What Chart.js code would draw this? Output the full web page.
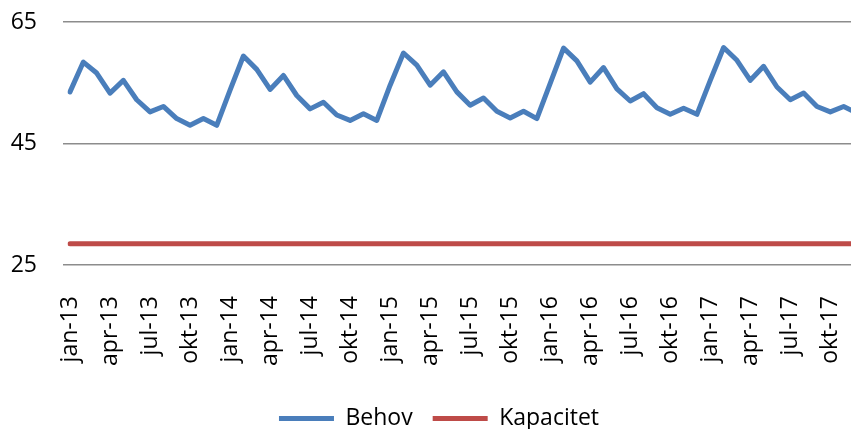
<!DOCTYPE html>
<html>
<head>
<meta charset="utf-8">
<script src="https://cdn.jsdelivr.net/npm/chart.js@4/dist/chart.umd.min.js"></script>
<style>
  html, body { margin: 0; padding: 0; background: #fff; }
  #clip { width: 851px; height: 429px; overflow: hidden; position: relative; }
  #box { width: 878px; height: 440px; position: absolute; left: 0; top: 0; }
</style>
</head>
<body>
<div id="clip"><div id="box"><canvas id="chart"></canvas></div></div>
<script>
// ---------- Data ----------
const labels = [
  "jan-13", "feb-13", "mar-13", "apr-13", "mai-13", "jun-13", "jul-13", "aug-13", "sep-13", "okt-13", "nov-13", "des-13",
  "jan-14", "feb-14", "mar-14", "apr-14", "mai-14", "jun-14", "jul-14", "aug-14", "sep-14", "okt-14", "nov-14", "des-14",
  "jan-15", "feb-15", "mar-15", "apr-15", "mai-15", "jun-15", "jul-15", "aug-15", "sep-15", "okt-15", "nov-15", "des-15",
  "jan-16", "feb-16", "mar-16", "apr-16", "mai-16", "jun-16", "jul-16", "aug-16", "sep-16", "okt-16", "nov-16", "des-16",
  "jan-17", "feb-17", "mar-17", "apr-17", "mai-17", "jun-17", "jul-17", "aug-17", "sep-17", "okt-17", "nov-17", "des-17",
];

const behov = [
  53.5, 58.4, 56.6, 53.3, 55.4, 52.2, 50.2, 51.1, 49.1, 48.0, 49.1, 48.0,
  53.8, 59.4, 57.2, 53.9, 56.2, 52.9, 50.7, 51.8, 49.7, 48.8, 49.9, 48.8,
  54.6, 59.9, 57.9, 54.6, 56.8, 53.5, 51.3, 52.5, 50.3, 49.2, 50.3, 49.1,
  54.9, 60.7, 58.6, 55.1, 57.5, 54.0, 52.0, 53.2, 50.9, 49.8, 50.8, 49.8,
  55.4, 60.8, 58.7, 55.4, 57.7, 54.3, 52.2, 53.3, 51.1, 50.2, 51.1, 50.0,
];

const kapacitet = [
  28.5, 28.5, 28.5, 28.5, 28.5, 28.5, 28.5, 28.5, 28.5, 28.5, 28.5, 28.5,
  28.5, 28.5, 28.5, 28.5, 28.5, 28.5, 28.5, 28.5, 28.5, 28.5, 28.5, 28.5,
  28.5, 28.5, 28.5, 28.5, 28.5, 28.5, 28.5, 28.5, 28.5, 28.5, 28.5, 28.5,
  28.5, 28.5, 28.5, 28.5, 28.5, 28.5, 28.5, 28.5, 28.5, 28.5, 28.5, 28.5,
  28.5, 28.5, 28.5, 28.5, 28.5, 28.5, 28.5, 28.5, 28.5, 28.5, 28.5, 28.5,
];

const yTicks = [25, 45, 65];

// ---------- Defaults ----------
Chart.defaults.font.family = `"Open Sans", "Noto Sans", sans-serif`;
Chart.defaults.font.size = 23;
Chart.defaults.color = "#000";

// drop the label overhang padding so the plot area sits where we put it
const noPad = (s) => {
  s.paddingLeft = 0;
  s.paddingRight = 0;
  s.paddingTop = 0;
  s.paddingBottom = 0;
};

const ctx = document.getElementById("chart").getContext("2d");
const chart = new Chart(ctx, {
  type: "line",
  data: {
    labels: labels,
    datasets: [
      {
        label: "Behov",
        data: behov,
        borderColor: "#4a7ebb",
        backgroundColor: "#4a7ebb",
        borderWidth: 5,
        borderCapStyle: "round",
        borderJoinStyle: "round",
        pointRadius: 0,
        tension: 0,
      },
      {
        label: "Kapacitet",
        data: kapacitet,
        borderColor: "#be4b48",
        backgroundColor: "#be4b48",
        borderWidth: 5,
        borderCapStyle: "round",
        borderJoinStyle: "round",
        pointRadius: 0,
        tension: 0,
      },
    ],
  },
  options: {
    responsive: true,
    maintainAspectRatio: false,
    animation: false,
    layout: { padding: { top: 22, left: 0, right: 0, bottom: 0 } },
    scales: {
      x: {
        grid: { display: false },
        border: { display: false },
        ticks: {
          autoSkip: false,
          maxRotation: 90,
          minRotation: 90,
          padding: 23,
          callback: (v, i) => (i % 3 === 0 ? labels[i] : ""),
        },
        afterFit: (s) => { s.height = 122; noPad(s); },
      },
      y: {
        min: 25,
        max: 65,
        afterBuildTicks: (s) => { s.ticks = yTicks.map((v) => ({ value: v })); },
        grid: { color: "#8c8c8c", lineWidth: 1.5, tickLength: 7 },
        border: { display: false },
        ticks: { padding: 26 },
        afterFit: (s) => { s.width = 70; noPad(s); },
      },
      y2: {
        position: "right",
        display: true,
        grid: { display: false },
        border: { display: false },
        ticks: { display: false },
        afterFit: (s) => { s.width = 21; noPad(s); },
      },
    },
    plugins: {
      legend: {
        position: "bottom",
        labels: {
          usePointStyle: true,
          pointStyle: "line",
          pointStyleWidth: 55,
          padding: 20,
          color: "#000",
        },
      },
      tooltip: { enabled: false },
    },
  },
});
</script>
</body>
</html>
